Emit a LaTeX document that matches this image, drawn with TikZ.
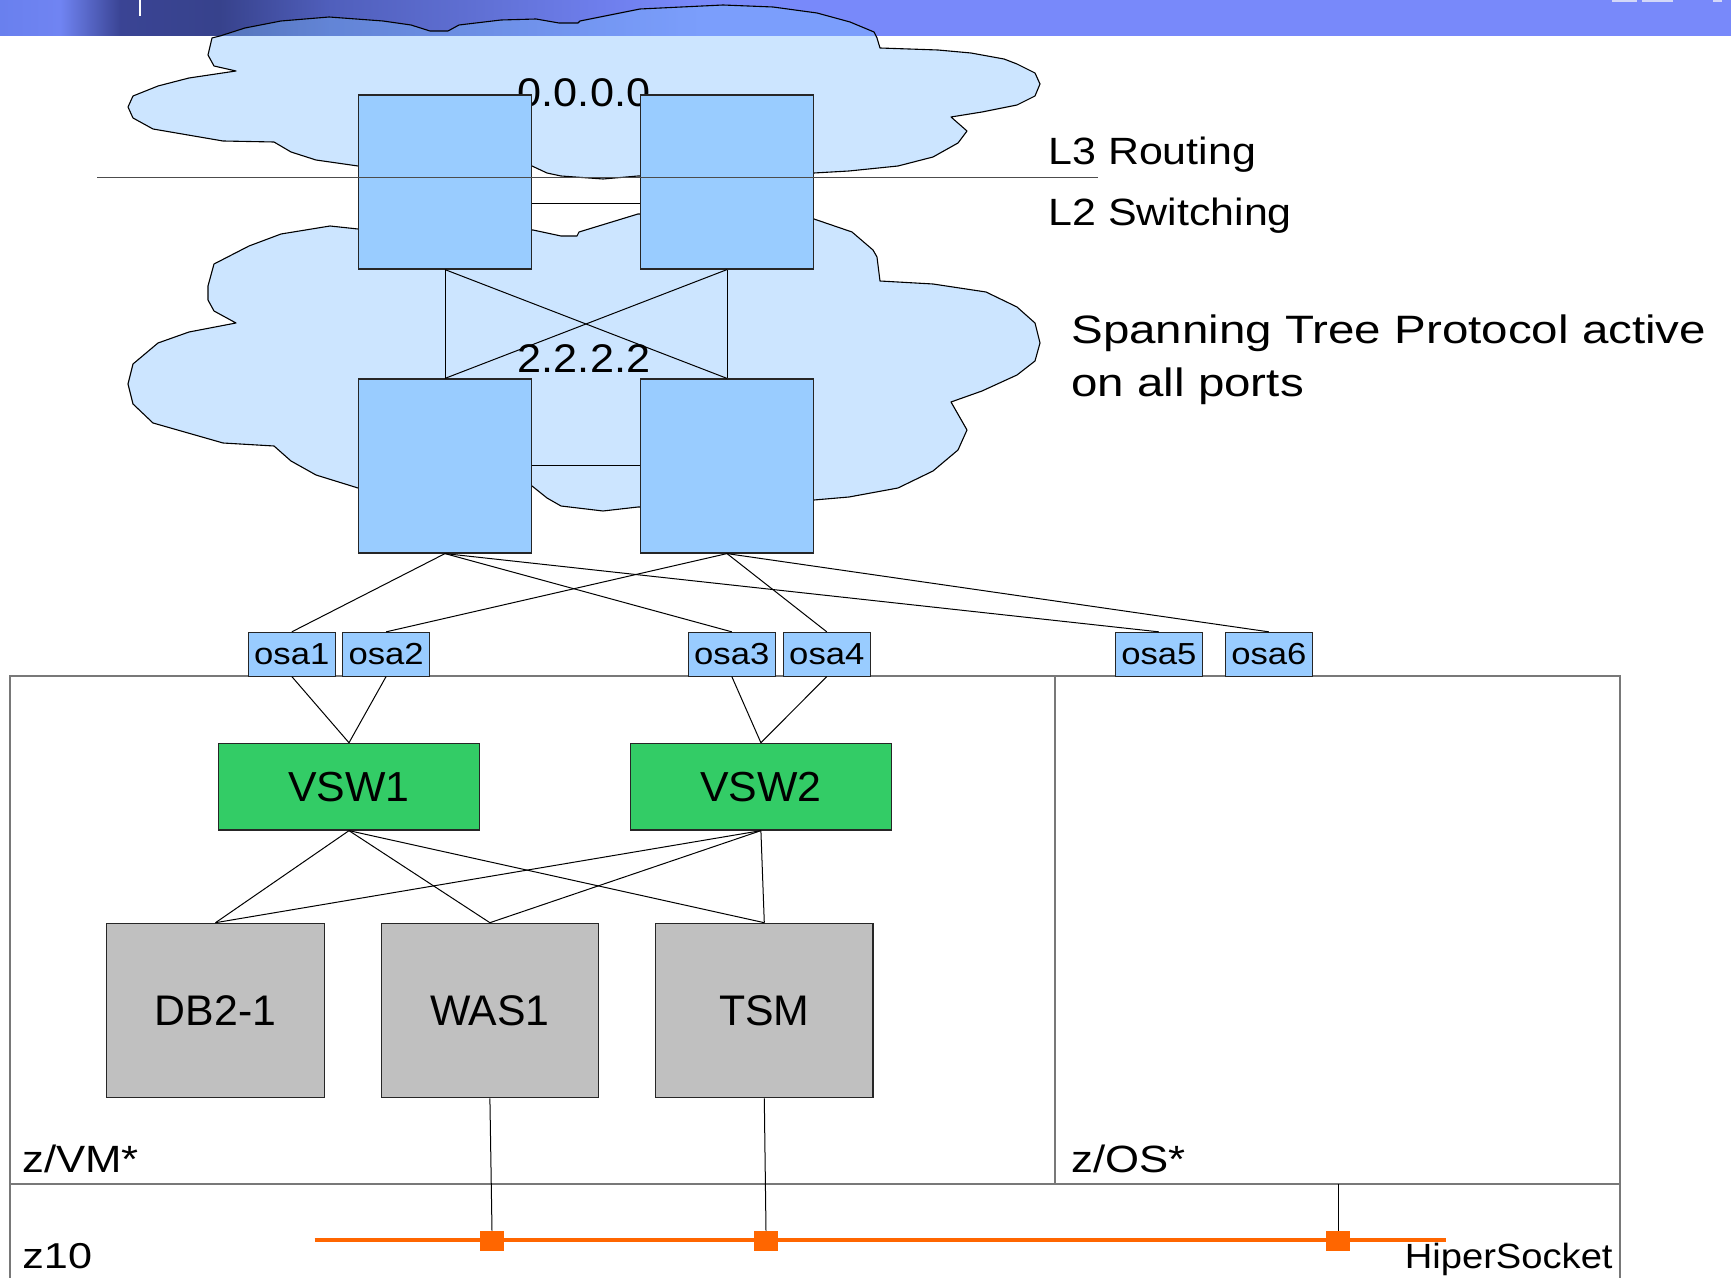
\documentclass[tikz,border=0pt]{standalone}
\usepackage{fontspec}
\usepackage{graphicx}
\setmainfont{Liberation Sans}
\newcommand\sx[3]{\scalebox{#1}[1]{\fontsize{#2}{#2}\selectfont #3}}
\definecolor{bannerc}{RGB}{120,137,250}
\definecolor{bA}{RGB}{105,128,238}
\definecolor{bB}{RGB}{112,132,242}
\definecolor{bC}{RGB}{58,68,148}
\definecolor{bD}{RGB}{55,66,140}
\definecolor{bE}{RGB}{80,95,188}
\definecolor{bF}{RGB}{96,112,212}
\definecolor{bG}{RGB}{110,126,236}
\definecolor{cloudc}{RGB}{128,190,255}
\definecolor{swc}{RGB}{153,204,255}
\definecolor{vswc}{RGB}{51,204,102}
\definecolor{srvc}{RGB}{192,192,192}
\definecolor{hsc}{RGB}{255,102,0}
\definecolor{framec}{RGB}{120,120,120}
\pgfdeclarehorizontalshading{bannershade}{100bp}{color(0bp)=(bA); color(25bp)=(bA); color(29.3bp)=(bB); color(33.6bp)=(bC); color(40.7bp)=(bD); color(48.6bp)=(bE); color(59.3bp)=(bF); color(67.9bp)=(bG); color(75bp)=(bannerc); color(100bp)=(bannerc)}
\tikzset{
  cloudshape/.style={draw=black, line width=0.55pt, fill=cloudc, fill opacity=0.4, draw opacity=1, line join=round},
  swbox/.style={draw=black!85, fill=swc, line width=0.6pt, minimum width=86.6pt, minimum height=87pt, inner sep=0pt},
  osabox/.style={draw=black!85, fill=swc, line width=0.5pt, minimum width=43.2pt, minimum height=21.85pt, inner sep=0pt},
  vswbox/.style={draw=black!85, fill=vswc, line width=0.6pt, minimum width=130.3pt, minimum height=43.35pt, inner sep=0pt},
  srvbox/.style={draw=black!85, fill=srvc, line width=0.6pt, minimum width=108.75pt, minimum height=87.2pt, inner sep=0pt},
  framebox/.style={draw=framec, line width=0.8pt, inner sep=0pt},
  conn/.style={draw=black, line width=0.5pt},
  sepline/.style={draw=black!70, line width=0.5pt},
  hsline/.style={draw=hsc, line width=2pt},
  hsq/.style={fill=hsc, minimum width=12pt, minimum height=10pt, inner sep=0pt},
  lbl/.style={inner sep=0pt, text=black},
}
\begin{document}
\begin{tikzpicture}[x=0.5pt,y=-0.5pt]
\useasboundingbox (0,0) rectangle (1731,1278);
% banner
\shade[shading=bannershade] (0,0) rectangle (700,36);
\fill[bannerc] (699.5,0) rectangle (1731,36);
\draw[white, line width=1pt] (140,0) -- (140,16);
\fill[black!8!bannerc!30!white] (1612,0) rectangle (1637,2.5);
\fill[black!8!bannerc!30!white] (1642,0) rectangle (1673,2.5);
\fill[black!8!bannerc!30!white] (1713,0) rectangle (1722,2.5);
% upper cloud
\draw[cloudshape] (212,38) -- (220,36) -- (245,28) -- (281,21) -- (329,17) -- (383,21) -- (411,25) -- (430,31) -- (448,31) -- (459,25) -- (501,20) -- (536,19) -- (559,23) -- (578,23) -- (580,21) -- (640,9) -- (723,5) -- (773,7) -- (817,13) -- (850,22) -- (874,32) -- (877,38) -- (880,48) -- (938,50) -- (971,53) -- (1004,59) -- (1017,64) -- (1035,73) -- (1040,84) -- (1035,96) -- (1017,105) -- (982,112) -- (951,117) -- (967,131) -- (958,143) -- (933,157) -- (898,166) -- (849,171) -- (814,173) -- (727,175) -- (638,176) -- (603,179) -- (561,176) -- (547,173) -- (532,166) -- (445,166) -- (358,166) -- (316,160) -- (291,152) -- (274,142) -- (223,141) -- (153,129) -- (133,118) -- (128,107) -- (133,96) -- (158,86) -- (189,78) -- (236,71) -- (214,66) -- (208,55) -- cycle;
% lower cloud
\draw[cloudshape] (358,229) -- (330,226) -- (281,234) -- (249,246) -- (214,264) -- (208,286) -- (208,300) -- (214,311) -- (236,323) -- (189,332) -- (158,343) -- (133,364) -- (128,384) -- (133,404) -- (153,423) -- (223,443) -- (274,446) -- (291,461) -- (316,475) -- (358,488) -- (445,488) -- (532,486) -- (547,498) -- (561,506) -- (603,511) -- (638,507) -- (727,505) -- (814,500) -- (849,497) -- (898,488) -- (933,471) -- (958,450) -- (967,430) -- (951,402) -- (982,391) -- (1017,375) -- (1035,361) -- (1040,343) -- (1035,323) -- (1017,307) -- (986,292) -- (933,284) -- (880,281) -- (877,257) -- (873,250) -- (852,232) -- (814,219) -- (727,216) -- (638,214) -- (579,232) -- (577,236) -- (561,236) -- (533,230) -- (445,229) -- cycle;
% IP labels (behind the switches)
\node[lbl, anchor=base] (ip0) at (584,106.4) {\sx{1.08}{20pt}{0.0.0.0}};
\node[lbl, anchor=base] (ip2) at (584,372.5) {\sx{1.08}{20pt}{2.2.2.2}};
% switches
\node[swbox] (ul) at (445,182) {};
\node[swbox] (ur) at (727,182) {};
\node[swbox] (ll) at (445,466) {};
\node[swbox] (lr) at (727,466) {};
\draw[conn] (ul.east |- 0,204) -- (ur.west |- 0,204);
\draw[conn] (ll.east) -- (lr.west);
\draw[conn] (ul.south) -- (ll.north);
\draw[conn] (ur.south) -- (lr.north);
\draw[conn] (ul.south) -- (lr.north);
\draw[conn] (ur.south) -- (ll.north);
% separator
\coordinate (sepL) at (97,177.5);
\coordinate (sepR) at (1098,177.5);
\draw[sepline] (sepL) -- (sepR);
% right texts
\node[lbl, anchor=base west] (l3) at (1048,164.3) {\sx{1.13}{19pt}{L3 Routing}};
\node[lbl, anchor=base west] (l2) at (1048,226) {\sx{1.13}{19pt}{L2 Switching}};
\node[lbl, anchor=base west] (stp1) at (1071,343.3) {\sx{1.2}{19.8pt}{Spanning Tree Protocol active}};
\node[lbl, anchor=base west] (stp2) at (1071,396.7) {\sx{1.2}{19.8pt}{on all ports}};
% frames
\node[framebox, minimum width=805.1pt, minimum height=58pt] (z10) at (814.9,1242) {};
\node[framebox, minimum width=522.6pt, minimum height=254pt] (zvm) at (532.4,930) {};
\node[framebox, minimum width=282.5pt, minimum height=254pt] (zos) at (1337.5,930) {};
% osa
\node[osabox] (osa1) at (291.8,654.2) {\sx{1.14}{15.2pt}{osa1}};
\node[osabox] (osa2) at (386.1,654.2) {\sx{1.14}{15.2pt}{osa2}};
\node[osabox] (osa3) at (731.8,654.2) {\sx{1.14}{15.2pt}{osa3}};
\node[osabox] (osa4) at (826.8,654.2) {\sx{1.14}{15.2pt}{osa4}};
\node[osabox] (osa5) at (1158.9,654.2) {\sx{1.14}{15.2pt}{osa5}};
\node[osabox] (osa6) at (1268.9,654.2) {\sx{1.14}{15.2pt}{osa6}};
\draw[conn] (ll.south) -- (osa1.north);
\draw[conn] (ll.south) -- (osa3.north);
\draw[conn] (ll.south) -- (osa5.north);
\draw[conn] (lr.south) -- (osa2.north);
\draw[conn] (lr.south) -- (osa4.north);
\draw[conn] (lr.south) -- (osa6.north);
% virtual switches
\node[vswbox] (vsw1) at (349,786.7) {\sx{1.02}{21pt}{VSW1}};
\node[vswbox] (vsw2) at (760.9,786.7) {\sx{1.02}{21pt}{VSW2}};
\draw[conn] (osa1.south) -- (vsw1.north);
\draw[conn] (osa2.south) -- (vsw1.north);
\draw[conn] (osa3.south) -- (vsw2.north);
\draw[conn] (osa4.south) -- (vsw2.north);
% servers
\node[srvbox] (db2) at (215.5,1010.5) {\sx{1.0}{21.4pt}{DB2-1}};
\node[srvbox] (was) at (489.9,1010.5) {\sx{1.0}{21.4pt}{WAS1}};
\node[srvbox] (tsm) at (764.3,1010.5) {\sx{1.0}{21.4pt}{TSM}};
\draw[conn] (vsw1.south) -- (db2.north);
\draw[conn] (vsw1.south) -- (was.north);
\draw[conn] (vsw1.south) -- (tsm.north);
\draw[conn] (vsw2.south) -- (db2.north);
\draw[conn] (vsw2.south) -- (was.north);
\draw[conn] (vsw2.south) -- (tsm.north);
% hipersocket
\coordinate (hsL) at (314.6,1240);
\coordinate (hsR) at (1446,1240);
\coordinate (zosp) at (1338,1184);
\draw[hsline] (hsL) -- (hsR);
\node[hsq] (hs1) at (492,1241) {};
\node[hsq] (hs2) at (766,1241) {};
\node[hsq] (hs3) at (1338,1241) {};
\begin{pgfonlayer}{main}\end{pgfonlayer}
\draw[conn] (was.south) -- (hs1.north);
\draw[conn] (tsm.south) -- (hs2.north);
\draw[conn] (zosp) -- (hs3.north);
% labels
\node[lbl, anchor=base west] (lzvm) at (22,1172) {\sx{1.15}{19pt}{z/VM*}};
\node[lbl, anchor=base west] (lzos) at (1071,1172) {\sx{1.15}{19pt}{z/OS*}};
\node[lbl, anchor=base west] (lz10) at (22,1268.5) {\sx{1.2}{18pt}{z10}};
\node[lbl, anchor=base east] (lhs) at (1613,1268.3) {\sx{1.09}{17.5pt}{HiperSocket}};
\end{tikzpicture}
\end{document}
